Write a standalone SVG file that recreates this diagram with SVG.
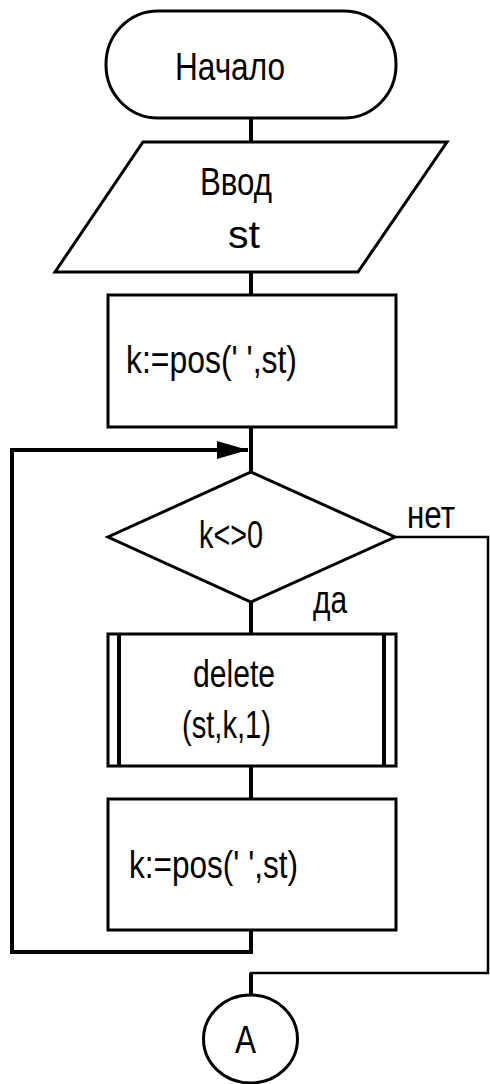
<svg xmlns="http://www.w3.org/2000/svg" width="490" height="1084" viewBox="0 0 490 1084">
<style>
.s{fill:#fff;stroke:#000;stroke-width:3}
.c{fill:none;stroke:#000;stroke-width:4}
.t{font-family:"Liberation Sans Narrow","Liberation Sans",Arial,sans-serif;font-size:38px;fill:#000}
</style>
<defs>
<marker id="arr" markerWidth="32" markerHeight="20" refX="31" refY="9" orient="auto" markerUnits="userSpaceOnUse">
<path d="M0,0 L31,9 L0,18 Z" fill="#000"/>
</marker>
</defs>
<rect width="490" height="1084" fill="#fff"/>
<g id="connectors">
<line class="c" x1="251" y1="118" x2="251" y2="142"/>
<line class="c" x1="251" y1="272" x2="251" y2="295"/>
<line class="c" x1="251" y1="427" x2="251" y2="472"/>
<line class="c" x1="251" y1="602" x2="251" y2="634"/>
<line class="c" x1="251" y1="766" x2="251" y2="799"/>
<path class="c" d="M251,930 V952 H12 V450 H248" marker-end="url(#arr)"/>
<path fill="none" stroke="#000" stroke-width="2.5" d="M395,537 H488 V973 H251 V995"/>
<line class="c" x1="251" y1="973" x2="251" y2="995"/>
</g>
<g id="start">
<rect class="s" x="106" y="11" width="290" height="107" rx="52" ry="53"/>
<text class="t" x="175" y="80" textLength="110" lengthAdjust="spacingAndGlyphs" font-size="42">Начало</text>
</g>
<g id="input">
<polygon class="s" points="143,142 447,142 358,272 55,272"/>
<text class="t" x="200" y="195" textLength="72" lengthAdjust="spacingAndGlyphs">Ввод</text>
<text class="t" x="228" y="248" textLength="32" lengthAdjust="spacingAndGlyphs">st</text>
</g>
<g id="assign1">
<rect class="s" x="108" y="295" width="288" height="132"/>
<text class="t" x="126" y="373" textLength="171" lengthAdjust="spacingAndGlyphs" font-size="39">k:=pos(' ',st)</text>
</g>
<g id="cond">
<polygon class="s" points="251,472 395,537 251,602 108,537"/>
<text class="t" x="199" y="548" textLength="64" lengthAdjust="spacingAndGlyphs" font-size="32">k&lt;&gt;0</text>
<text class="t" x="407" y="528" textLength="48" lengthAdjust="spacingAndGlyphs">нет</text>
<text class="t" x="313" y="613" textLength="34" lengthAdjust="spacingAndGlyphs">да</text>
</g>
<g id="delete">
<rect class="s" x="108" y="634" width="288" height="132"/>
<line x1="119" y1="634" x2="119" y2="766" stroke="#000" stroke-width="4"/>
<line x1="384" y1="634" x2="384" y2="766" stroke="#000" stroke-width="4"/>
<text class="t" x="193" y="687" textLength="82" lengthAdjust="spacingAndGlyphs" font-size="32">delete</text>
<text class="t" x="182" y="738" textLength="89" lengthAdjust="spacingAndGlyphs" font-size="35">(st,k,1)</text>
</g>
<g id="assign2">
<rect class="s" x="108" y="799" width="288" height="131"/>
<text class="t" x="129" y="878" textLength="169" lengthAdjust="spacingAndGlyphs" font-size="39">k:=pos(' ',st)</text>
</g>
<g id="connectorA">
<ellipse class="s" cx="250.5" cy="1039" rx="47" ry="44"/>
<text class="t" x="235" y="1053" textLength="21" lengthAdjust="spacingAndGlyphs" font-size="36">A</text>
</g>
</svg>
